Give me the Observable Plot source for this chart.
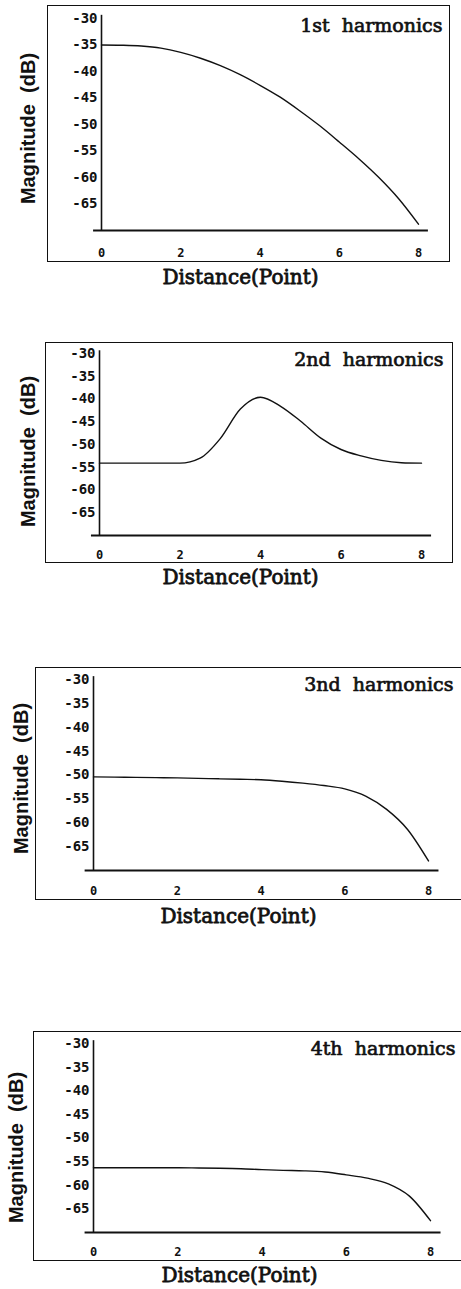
<!DOCTYPE html>
<html>
<head>
<meta charset="utf-8">
<script src="https://cdn.jsdelivr.net/npm/d3@7"></script>
<script src="https://cdn.jsdelivr.net/npm/@observablehq/plot@0.6"></script>
<style>
  html, body { margin: 0; padding: 0; background: #fff; }
  #root { position: relative; width: 461px; height: 1289px; overflow: hidden; background: #fff; }
  .box { position: absolute; border: 1.5px solid #111; box-sizing: border-box; }
  .panel { position: absolute; left: 0; }
  .panel svg { overflow: visible; }
</style>
</head>
<body>
<div id="root"></div>
<script>
// ---- data ----
const distance = [0, 0.5, 1, 1.5, 2, 2.5, 3, 3.5, 4, 4.5, 5, 5.5, 6, 6.5, 7, 7.5, 8];
const harmonic1 = [-35.0, -35.05, -35.2, -35.6, -36.4, -37.5, -38.9, -40.6, -42.6, -44.8, -47.4, -50.2, -53.3, -56.5, -60.0, -64.0, -68.8];
const harmonic2 = [-54.1, -54.1, -54.1, -54.1, -54.1, -53.0, -48.7, -42.2, -39.6, -41.6, -44.9, -48.6, -51.1, -52.5, -53.5, -54.0, -54.1];
const harmonic3 = [-50.4, -50.45, -50.5, -50.55, -50.6, -50.7, -50.8, -50.9, -51.0, -51.3, -51.7, -52.2, -52.9, -54.4, -57.2, -61.4, -68.0];
const harmonic4 = [-56.3, -56.3, -56.3, -56.3, -56.3, -56.35, -56.4, -56.5, -56.7, -56.85, -56.95, -57.2, -57.8, -58.5, -59.7, -62.3, -67.5];
const titles = ["1st  harmonics", "2nd  harmonics", "3nd  harmonics", "4th  harmonics"];
const yTicks = [-30, -35, -40, -45, -50, -55, -60, -65];
const xTicks = [0, 2, 4, 6, 8];
const yLabel = "Magnitude  (dB)";
const xLabel = "Distance(Point)";
const yDomain = [-70, -30];
const xDomain = [0, 8];

// ---- layout (pixels) ----
const W = 461;
const layouts = [
  {top: 0,    height: 295, axisX: 101, x8: 418, y30: 18,   y70: 230,  box: [47, 5, 403, 257],   titleRight: 442, titleY: 25,   ylabX: 28, ylabY: 128,  xlabX: 240, xlabY: 277,  xtickY: 253},
  {top: 330,  height: 265, axisX: 99,  x8: 421, y30: 353,  y70: 535,  box: [45, 342, 408, 221],  titleRight: 443, titleY: 359,  ylabX: 28, ylabY: 451,  xlabX: 240, xlabY: 577,  xtickY: 555},
  {top: 660,  height: 270, axisX: 93,  x8: 428, y30: 679,  y70: 870,  box: [35, 667, 428, 233],  titleRight: 453, titleY: 684,  ylabX: 21, ylabY: 778,  xlabX: 238, xlabY: 916,  xtickY: 891},
  {top: 1025, height: 264, axisX: 93,  x8: 430, y30: 1043, y70: 1232, box: [33, 1031, 430, 230], titleRight: 455, titleY: 1048, ylabX: 16, ylabY: 1147, xlabX: 239, xlabY: 1275, xtickY: 1252}
];
const series = [harmonic1, harmonic2, harmonic3, harmonic4];

const root = document.getElementById("root");

series.forEach((vals, i) => {
  const L = layouts[i];
  const rows = distance.map((d, k) => ({d, v: vals[k]}));
  const box = document.createElement("div");
  box.className = "box";
  box.style.left = L.box[0] + "px";
  box.style.top = L.box[1] + "px";
  box.style.width = L.box[2] + "px";
  box.style.height = L.box[3] + "px";
  root.appendChild(box);

  const mt = L.y30 - L.top, mb = L.top + L.height - L.y70;
  const chart = Plot.plot({
    width: W,
    height: L.height,
    marginLeft: L.axisX,
    marginRight: W - L.x8,
    marginTop: mt,
    marginBottom: mb,
    style: {background: "transparent", color: "#111", fontFamily: "DejaVu Sans Mono"},
    x: {domain: xDomain, axis: null},
    y: {domain: yDomain, axis: null},
    marks: [
      Plot.axisY({ticks: yTicks, tickSize: 0, tickPadding: 4, tickFormat: d => String(d), label: null,
        fontSize: 14, fontFamily: "DejaVu Sans Mono", fontWeight: "bold", style: {letterSpacing: "1px"}}),
      Plot.axisX({ticks: xTicks, tickSize: 0, tickPadding: L.xtickY - L.y70, lineAnchor: "middle", label: null,
        fontSize: 12, fontWeight: "bold", fontFamily: "DejaVu Sans Mono"}),
      Plot.ruleX([0], {y1: -70, y2: -29.4, stroke: "#111", strokeWidth: 1.6}),
      Plot.ruleY([-70], {x1: -0.2, x2: 8.25, stroke: "#111", strokeWidth: 1.8}),
      Plot.line(rows, {x: "d", y: "v", curve: "monotone-x", stroke: "#111", strokeWidth: 1.4}),
      Plot.text([titles[i]], {frameAnchor: "top-right", textAnchor: "end", lineAnchor: "middle",
        dx: L.titleRight - L.x8, dy: L.titleY - L.y30,
        fontFamily: "DejaVu Serif", fontSize: 19, fill: "#111", stroke: "#111", strokeWidth: 0.7,
        style: {whiteSpace: "pre"}}),
      Plot.text([yLabel], {frameAnchor: "left", rotate: -90, textAnchor: "middle", lineAnchor: "middle",
        dx: L.ylabX - L.axisX, dy: L.ylabY - (L.y30 + L.y70) / 2,
        fontFamily: "Liberation Sans", fontSize: 20, fontWeight: "bold", fill: "#111",
        style: {letterSpacing: "0.8px", whiteSpace: "pre"}}),
      Plot.text([xLabel], {frameAnchor: "bottom", textAnchor: "middle", lineAnchor: "middle",
        dx: L.xlabX - (L.axisX + L.x8) / 2, dy: L.xlabY - L.y70,
        fontFamily: "DejaVu Serif", fontSize: 20, fill: "#111", stroke: "#111", strokeWidth: 0.8})
    ]
  });
  const wrap = document.createElement("div");
  wrap.className = "panel";
  wrap.style.top = L.top + "px";
  wrap.appendChild(chart);
  root.appendChild(wrap);
});
</script>
</body>
</html>
